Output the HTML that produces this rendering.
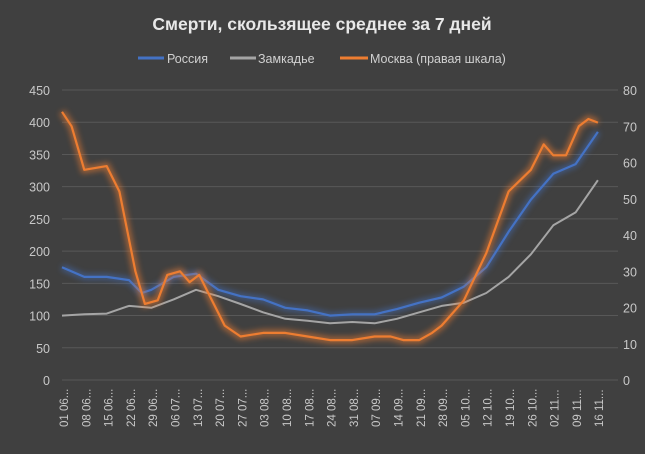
<!DOCTYPE html>
<html><head><meta charset="utf-8"><style>
body{margin:0;background:#404040;}
svg{display:block;font-family:"Liberation Sans",sans-serif;}
</style></head><body>
<svg id="s" width="645" height="454" viewBox="0 0 645 454">
<rect width="645" height="454" fill="#404040"/>
<text x="322" y="30" text-anchor="middle" fill="#e8e8e8" font-size="17.5" font-weight="bold">Смерти, скользящее среднее за 7 дней</text>
<line x1="138" y1="58" x2="164" y2="58" stroke="#4472c4" stroke-width="3"/>
<text x="167" y="63" fill="#d0d0d0" font-size="12.5">Россия</text>
<line x1="230" y1="58" x2="256" y2="58" stroke="#a5a5a5" stroke-width="3"/>
<text x="258" y="63" fill="#d0d0d0" font-size="12.5">Замкадье</text>
<line x1="340" y1="58" x2="368" y2="58" stroke="#ed7d31" stroke-width="3"/>
<text x="370" y="63" fill="#d0d0d0" font-size="12.5">Москва (правая шкала)</text>
<defs><filter id="g" x="-10%" y="-10%" width="120%" height="120%"><feGaussianBlur stdDeviation="3"/></filter></defs>
<g id="grid"></g><g id="lines"></g>
</svg>
<script>
(function(){
const s=document.getElementById('grid'),L=document.getElementById('lines');
const NS='http://www.w3.org/2000/svg';
function el(t,a,p,txt){const e=document.createElementNS(NS,t);for(const k in a)e.setAttribute(k,a[k]);if(txt!==undefined)e.textContent=txt;(p||s).appendChild(e);return e;}
const y0=380,yt=90;
for(let i=0;i<=9;i++){const y=y0-i*(y0-yt)/9;
 el('line',{x1:62,x2:618,y1:y,y2:y,stroke:'#585858','stroke-width':1});
 el('text',{x:50,y:y+5,'text-anchor':'end',fill:'#c8c8c8','font-size':12.5},s,String(i*50));
 if(i<=8){const yr=y0-i*(y0-yt)/8;el('text',{x:623,y:yr+5,fill:'#c8c8c8','font-size':12.5},s,String(i*10));}
}
const dx=3.19,x0=62;
const labs=["01 06...","08 06...","15 06...","22 06...","29 06...","06 07...","13 07...","20 07...","27 07...","03 08...","10 08...","17 08...","24 08...","31 08...","07 09...","14 09...","21 09...","28 09...","05 10...","12 10...","19 10...","26 10...","02 11...","09 11...","16 11..."];
labs.forEach((l,i)=>{const x=64+i*22.3;el('text',{transform:`translate(${x+4},427) rotate(-90)`,fill:'#c8c8c8','font-size':11.5},s,l);});
function wk(arr){return arr.map((v,i)=>[i*7,v]);}
const ru=wk([175,160,160,155,140,160,165,140,130,125,112,108,100,102,102,110,120,128,145,175,230,280,320,335,385]);
ru.splice(4,0,[25,135]);
const za=wk([100,102,103,115,112,125,140,130,118,105,95,92,88,90,88,95,105,115,120,135,160,195,240,260,310]);
const mo=[[0,74],[3,70],[7,58],[14,59],[18,52],[23,30],[26,21],[30,22],[33,29],[37,30],[40,27],[43,29],[47,22],[51,15],[56,12],[63,13],[70,13],[77,12],[84,11],[91,11],[98,12],[103,12],[107,11],[112,11],[116,13],[119,15],[126,22],[133,35],[140,52],[147,58],[151,65],[154,62],[158,62],[162,70],[165,72],[168,71]];
function pts(d,f){return d.slice().sort((a,b)=>a[0]-b[0]).map(p=>(x0+p[0]*dx).toFixed(1)+','+f(p[1]).toFixed(1)).join(' ');}
const fl=v=>y0-v*(y0-yt)/450, fr=v=>y0-v*(y0-yt)/80;
el('polyline',{points:pts(ru,fl),fill:'none',stroke:'#4472c4','stroke-width':6,opacity:.5,filter:'url(#g)'},L);
el('polyline',{points:pts(za,fl),fill:'none',stroke:'#a5a5a5','stroke-width':2,'stroke-linejoin':'round'},L);
el('polyline',{points:pts(ru,fl),fill:'none',stroke:'#4472c4','stroke-width':2.2,'stroke-linejoin':'round'},L);
el('polyline',{points:pts(mo,fr),fill:'none',stroke:'#ed7d31','stroke-width':7,opacity:.55,filter:'url(#g)'},L);
el('polyline',{points:pts(mo,fr),fill:'none',stroke:'#ed7d31','stroke-width':2.2,'stroke-linejoin':'round'},L);
})();
</script>
</body></html>
